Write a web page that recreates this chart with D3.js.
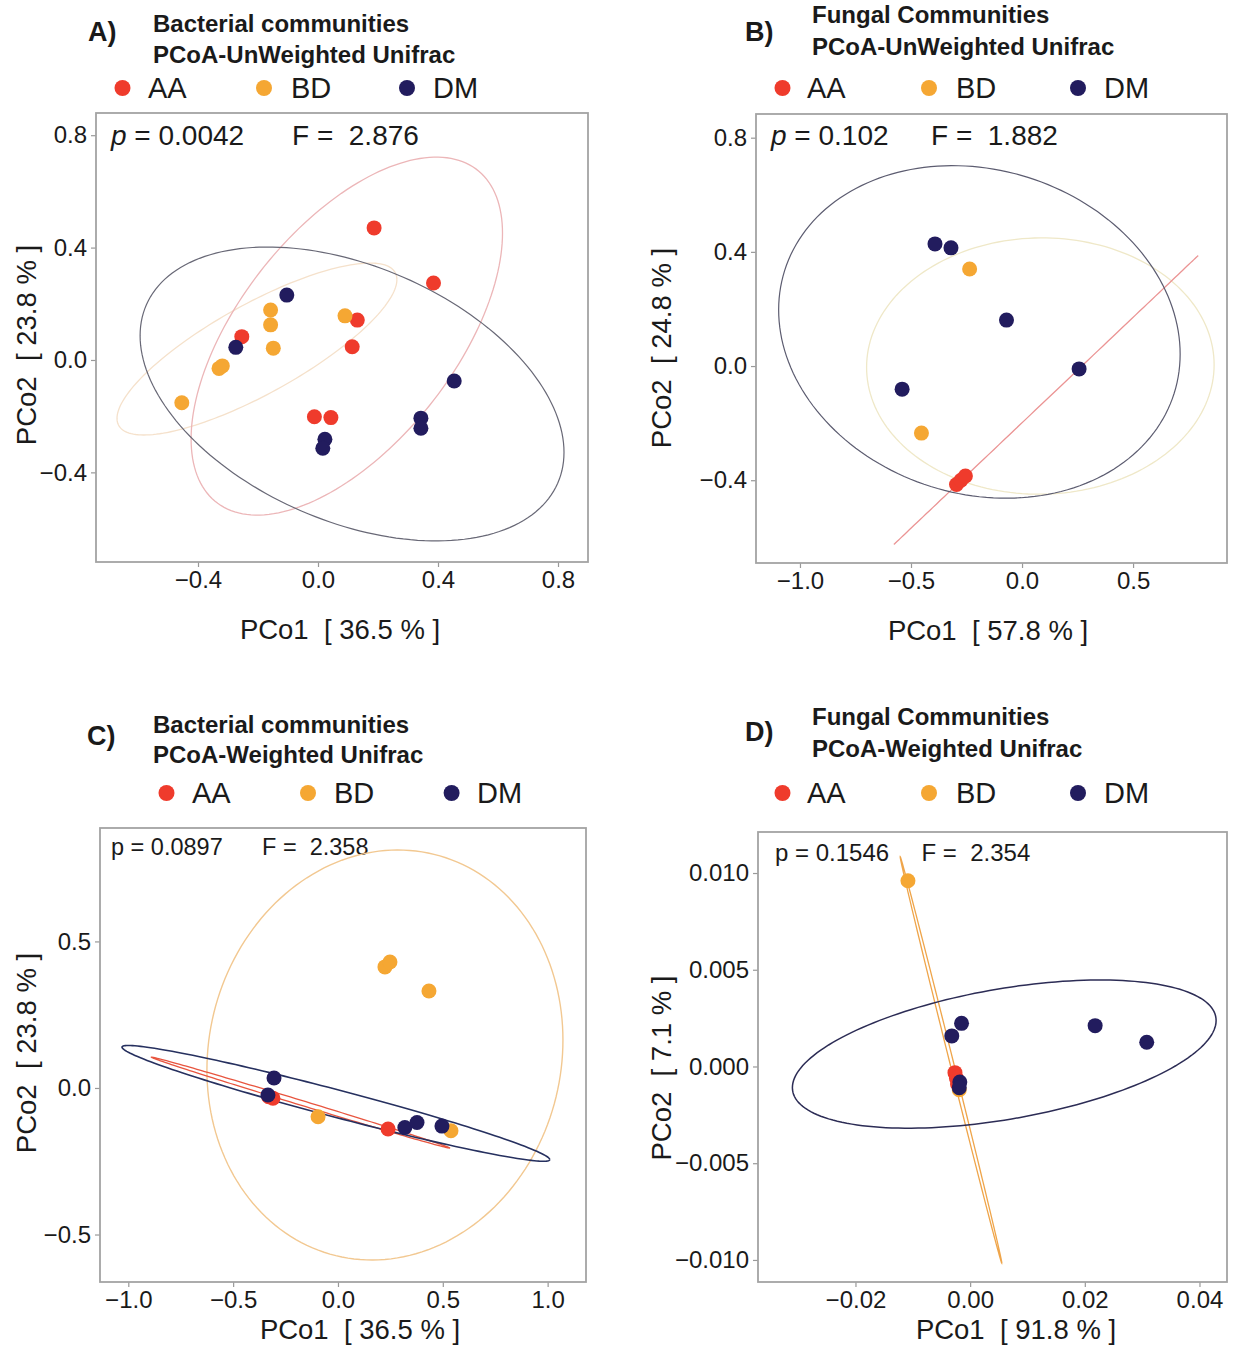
<!DOCTYPE html>
<html>
<head>
<meta charset="utf-8">
<script src="https://cdn.jsdelivr.net/npm/d3@7"></script>
<style>
  body { margin: 0; background: #fff; }
  svg text { font-family: "Liberation Sans", Arial, Helvetica, sans-serif; fill: #1a1a1a; }
</style>
</head>
<body>
<svg id="canvas" width="1234" height="1347"></svg>
<script>
var groups = ["AA", "BD", "DM"];

// ---- A) bacterial, unweighted unifrac ----
var aAA = [[0.187, 0.47], [0.385, 0.274], [0.131, 0.142], [-0.254, 0.083], [0.114, 0.047], [-0.012, -0.202], [0.043, -0.205]];
var aBD = [[-0.158, 0.178], [-0.158, 0.125], [0.09, 0.157], [-0.149, 0.042], [-0.319, -0.021], [-0.33, -0.03], [-0.454, -0.152]];
var aDM = [[-0.104, 0.231], [-0.274, 0.045], [0.454, -0.075], [0.343, -0.207], [0.343, -0.243], [0.023, -0.282], [0.016, -0.314]];
// ellipses: xmin, xmax, ymin, ymax, tilt (cos of phase)
var aEllAA = [-0.423, 0.615, -0.552, 0.722, 0.575];
var aEllBD = [-0.67, 0.263, -0.267, 0.345, 0.807];
var aEllDM = [-0.593, 0.82, -0.644, 0.402, -0.397];
var aXTicks = [-0.4, 0, 0.4, 0.8];
var aYTicks = [-0.4, 0, 0.4, 0.8];

// ---- B) fungal, unweighted unifrac ----
var bAA = [[-0.295, -0.415], [-0.275, -0.40], [-0.255, -0.385]];
var bBD = [[-0.236, 0.34], [-0.453, -0.235]];
var bDM = [[-0.392, 0.428], [-0.32, 0.414], [-0.07, 0.161], [0.257, -0.01], [-0.54, -0.081]];
var bEllAA = [-0.577, 0.793, -0.625, 0.387, 1];
var bEllBD = [-0.70, 0.865, -0.449, 0.449, 0.01];
var bEllDM = [-1.096, 0.712, -0.463, 0.702, -0.133];
var bXTicks = [-1, -0.5, 0, 0.5];
var bYTicks = [-0.4, 0, 0.4, 0.8];

// ---- C) bacterial, weighted unifrac ----
var cAA = [[-0.33, -0.03], [-0.31, -0.035], [0.239, -0.14]];
var cBD = [[0.224, 0.413], [0.248, 0.43], [0.434, 0.331], [-0.095, -0.098], [0.539, -0.146]];
var cDM = [[-0.305, 0.034], [-0.334, -0.024], [0.319, -0.135], [0.377, -0.118], [0.496, -0.13]];
var cEllAA = [-0.89, 0.534, -0.2052, 0.1052, -0.9985];
var cEllBD = [-0.625, 1.073, -0.587, 0.812, 0.073];
var cEllDM = [-1.03, 1.01, -0.25, 0.145, -0.97];
var cXTicks = [-1, -0.5, 0, 0.5, 1];
var cYTicks = [-0.5, 0, 0.5];

// ---- D) fungal, weighted unifrac ----
var dAA = [[-0.00265, -0.00032], [-0.0024, -0.0006], [-0.0022, -0.0009]];
var dBD = [[-0.01085, 0.0096], [-0.0019, -0.0012]];
var dDM = [[-0.0015, 0.00223], [-0.0032, 0.00158], [0.0218, 0.00211], [0.0308, 0.00125], [-0.0018, -0.0008], [-0.0019, -0.0011]];
var dEllBD = [-0.0122, 0.00553, -0.01017, 0.01084, -0.9993];
var dEllDM = [-0.031, 0.0429, -0.00319, 0.00447, 0.453];
var dXTicks = [-0.02, 0, 0.02, 0.04];
var dYTicks = [-0.01, -0.005, 0, 0.005, 0.01];

var pointColor = { AA: "#ef3b2c", BD: "#f5a733", DM: "#221c5e" };
var svg = d3.select("#canvas");

function minusFmt(digits) {
  return function(v) {
    var s = Math.abs(v).toFixed(digits);
    return (v < 0 ? "\u2212" : "") + s;
  };
}

function ellipsePoints(e) {
  var cx = (e[0] + e[1]) / 2, ax = (e[1] - e[0]) / 2;
  var cy = (e[2] + e[3]) / 2, by = (e[3] - e[2]) / 2;
  var phi = Math.acos(Math.max(-1, Math.min(1, e[4])));
  return d3.range(0, 361, 2).map(function(deg) {
    var t = deg * Math.PI / 180;
    return [cx + ax * Math.cos(t), cy + by * Math.cos(t - phi)];
  });
}

function drawPanel(p) {
  var g = svg.append("g");
  var x = d3.scaleLinear().domain(p.xDomain).range([p.box.left, p.box.right]);
  var y = d3.scaleLinear().domain(p.yDomain).range([p.box.bottom, p.box.top]);

  // panel letter + title
  g.append("text").attr("x", p.letter[0]).attr("y", p.letter[1])
    .attr("font-size", 27).attr("font-weight", "bold").text(p.name);
  p.title.forEach(function(t, i) {
    g.append("text").attr("x", p.titleX).attr("y", p.titleY[i])
      .attr("font-size", 24).attr("font-weight", "bold").text(t);
  });

  // legend
  groups.forEach(function(grp, i) {
    g.append("circle").attr("cx", p.legendDot[i]).attr("cy", p.legendY)
      .attr("r", 8).attr("fill", pointColor[grp]);
    g.append("text").attr("x", p.legendText[i]).attr("y", p.legendY + 10)
      .attr("font-size", 29).text(grp);
  });

  // axes
  var yAxis = g.append("g").attr("transform", "translate(" + p.box.left + ",0)")
    .call(d3.axisLeft(y).tickValues(p.yTicks).tickFormat(p.yFmt).tickSize(5).tickPadding(4));
  var xAxis = g.append("g").attr("transform", "translate(0," + p.box.bottom + ")")
    .call(d3.axisBottom(x).tickValues(p.xTicks).tickFormat(p.xFmt).tickSize(5).tickPadding(4));
  [xAxis, yAxis].forEach(function(a) {
    a.select(".domain").remove();
    a.selectAll(".tick line").attr("stroke", "#999").attr("stroke-width", 1.2);
    a.selectAll(".tick text").attr("font-size", 24).attr("fill", "#2a2a2a")
      .style("font-family", "'Liberation Sans', Arial, sans-serif");
  });

  // box
  g.append("rect").attr("x", p.box.left).attr("y", p.box.top)
    .attr("width", p.box.right - p.box.left).attr("height", p.box.bottom - p.box.top)
    .attr("fill", "none").attr("stroke", "#a3a3a3").attr("stroke-width", 1.8);

  // axis titles
  g.append("text").attr("x", p.xTitle[0]).attr("y", p.xTitle[1])
    .attr("text-anchor", "middle").attr("font-size", 27.5).attr("fill", "#222")
    .attr("xml:space", "preserve").text(p.xLabel);
  g.append("text").attr("transform", "translate(" + p.yTitle[0] + "," + p.yTitle[1] + ") rotate(-90)")
    .attr("text-anchor", "middle").attr("font-size", 27.5).attr("fill", "#222")
    .attr("xml:space", "preserve").text(p.yLabel);

  // stats
  var st = g.append("text").attr("x", p.stats.px).attr("y", p.stats.y)
    .attr("font-size", p.stats.size).attr("fill", "#222");
  st.append("tspan").attr("font-style", p.stats.italic ? "italic" : "normal").text("p");
  st.append("tspan").text(" = " + p.stats.p);
  g.append("text").attr("x", p.stats.fx).attr("y", p.stats.y)
    .attr("font-size", p.stats.size).attr("fill", "#222")
    .attr("xml:space", "preserve").text("F =  " + p.stats.f);

  // ellipses
  var clipId = "clip" + p.id;
  svg.append("clipPath").attr("id", clipId).append("rect")
    .attr("x", p.box.left).attr("y", p.box.top)
    .attr("width", p.box.right - p.box.left).attr("height", p.box.bottom - p.box.top);
  var line = d3.line()
    .x(function(d) { return x(d[0]); })
    .y(function(d) { return y(d[1]); });
  var eg = g.append("g").attr("clip-path", "url(#" + clipId + ")");
  p.ellipses.forEach(function(e) {
    eg.append("path").attr("d", line(ellipsePoints(e.v)))
      .attr("fill", "none").attr("stroke", e.color).attr("stroke-width", e.w);
  });

  // points
  groups.forEach(function(grp) {
    eg.append("g").selectAll("circle")
      .data(p.points[grp])
      .enter()
      .append("circle")
      .attr("cx", function(d) { return x(d[0]); })
      .attr("cy", function(d) { return y(d[1]); })
      .attr("r", 7.5)
      .attr("fill", pointColor[grp]);
  });
}

drawPanel({
  id: "A", name: "A)", letter: [88, 41],
  title: ["Bacterial communities", "PCoA-UnWeighted Unifrac"], titleX: 153, titleY: [32, 63],
  legendDot: [122.5, 264, 407], legendText: [148, 291, 433], legendY: 88,
  box: { left: 96, right: 588, top: 113, bottom: 562 },
  xDomain: [-0.74, 0.9], yDomain: [-0.719, 0.879],
  xTicks: aXTicks, yTicks: aYTicks, xFmt: minusFmt(1), yFmt: minusFmt(1),
  xLabel: "PCo1  [ 36.5 % ]", xTitle: [340, 639],
  yLabel: "PCo2  [ 23.8 % ]", yTitle: [36, 345],
  stats: { px: 111, fx: 292, y: 145, size: 28, italic: true, p: "0.0042", f: "2.876" },
  ellipses: [
    { v: aEllBD, color: "#f5e1cb", w: 1.3 },
    { v: aEllAA, color: "#ecb6b8", w: 1.3 },
    { v: aEllDM, color: "#686876", w: 1.2 }
  ],
  points: { AA: aAA, BD: aBD, DM: aDM }
});

drawPanel({
  id: "B", name: "B)", letter: [745, 41],
  title: ["Fungal Communities", "PCoA-UnWeighted Unifrac"], titleX: 812, titleY: [23, 55],
  legendDot: [782.5, 929, 1078], legendText: [807, 956, 1104], legendY: 88,
  box: { left: 756, right: 1227, top: 114, bottom: 563 },
  xDomain: [-1.198, 0.923], yDomain: [-0.69, 0.883],
  xTicks: bXTicks, yTicks: bYTicks, xFmt: minusFmt(1), yFmt: minusFmt(1),
  xLabel: "PCo1  [ 57.8 % ]", xTitle: [988, 640],
  yLabel: "PCo2  [ 24.8 % ]", yTitle: [671, 348],
  stats: { px: 771, fx: 931, y: 145, size: 28, italic: true, p: "0.102", f: "1.882" },
  ellipses: [
    { v: bEllBD, color: "#efe8c8", w: 1.3 },
    { v: bEllAA, color: "#eb9494", w: 1.3 },
    { v: bEllDM, color: "#5c5c70", w: 1.2 }
  ],
  points: { AA: bAA, BD: bBD, DM: bDM }
});

drawPanel({
  id: "C", name: "C)", letter: [87, 745],
  title: ["Bacterial communities", "PCoA-Weighted Unifrac"], titleX: 153, titleY: [733, 763],
  legendDot: [166.5, 308, 451.6], legendText: [192, 334, 477], legendY: 793,
  box: { left: 100, right: 586, top: 828, bottom: 1282 },
  xDomain: [-1.135, 1.183], yDomain: [-0.662, 0.887],
  xTicks: cXTicks, yTicks: cYTicks, xFmt: minusFmt(1), yFmt: minusFmt(1),
  xLabel: "PCo1  [ 36.5 % ]", xTitle: [360, 1339],
  yLabel: "PCo2  [ 23.8 % ]", yTitle: [36, 1053],
  stats: { px: 111, fx: 262, y: 855, size: 23.5, italic: false, p: "0.0897", f: "2.358" },
  ellipses: [
    { v: cEllBD, color: "#f2c891", w: 1.4 },
    { v: cEllAA, color: "#e8553f", w: 1.3 },
    { v: cEllDM, color: "#26305f", w: 1.6 }
  ],
  points: { AA: cAA, BD: cBD, DM: cDM }
});

drawPanel({
  id: "D", name: "D)", letter: [745, 741],
  title: ["Fungal Communities", "PCoA-Weighted Unifrac"], titleX: 812, titleY: [725, 757],
  legendDot: [782.5, 929, 1078], legendText: [807, 956, 1104], legendY: 793,
  box: { left: 758, right: 1227, top: 832, bottom: 1282 },
  xDomain: [-0.037, 0.0448], yDomain: [-0.01114, 0.01212],
  xTicks: dXTicks, yTicks: dYTicks, xFmt: minusFmt(2), yFmt: minusFmt(3),
  xLabel: "PCo1  [ 91.8 % ]", xTitle: [1016, 1339],
  yLabel: "PCo2  [ 7.1 % ]", yTitle: [671, 1068],
  stats: { px: 775, fx: 921.5, y: 861, size: 24, italic: false, p: "0.1546", f: "2.354" },
  ellipses: [
    { v: dEllBD, color: "#efa54a", w: 1.3 },
    { v: dEllDM, color: "#2c2c55", w: 1.5 }
  ],
  points: { AA: dAA, BD: dBD, DM: dDM }
});
</script>
</body>
</html>
